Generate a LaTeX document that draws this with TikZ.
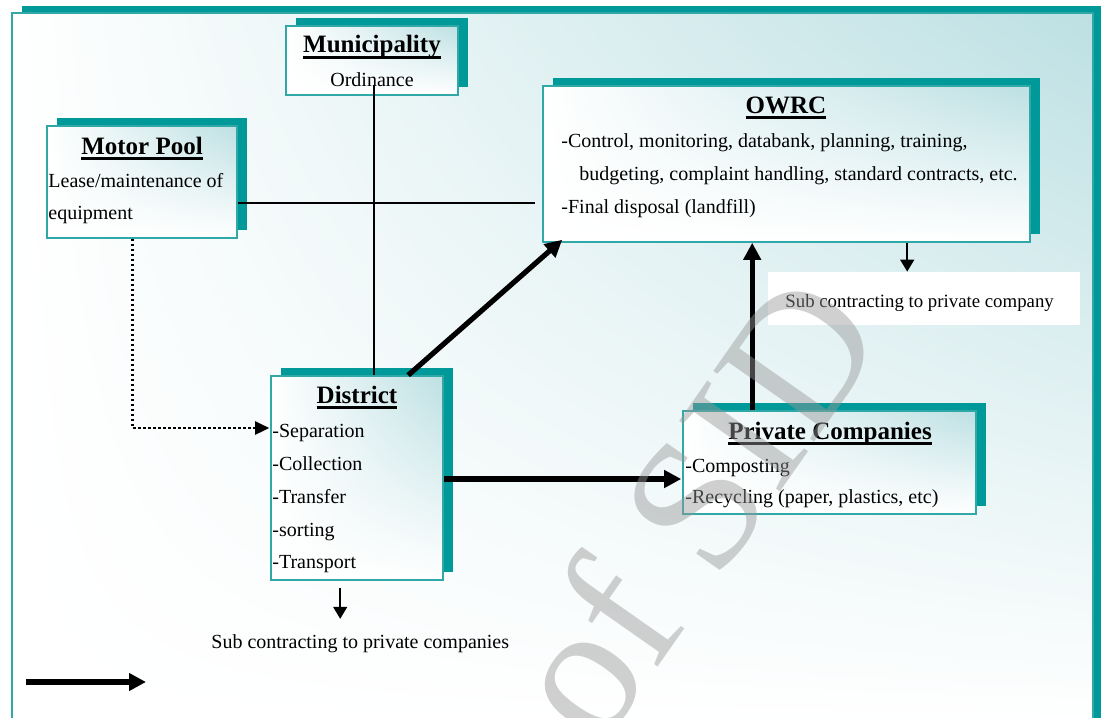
\documentclass[tikz,border=0pt]{standalone}
\usepackage{fontspec}
\setmainfont{Liberation Serif}
\usetikzlibrary{shadows,shadings,arrows.meta,calc}

\definecolor{tealdark}{HTML}{009999}
\definecolor{tealline}{HTML}{30A8A8}
\definecolor{tealpale}{HTML}{BDE0E3}
\definecolor{wmgray}{HTML}{979797}

% bold heading with a rule that cuts through the descenders
\newcommand\hdr[1]{\setbox0\hbox{\bfseries #1}\dp0=0pt\vtop{\copy0\kern1.7pt\hrule height 1.2pt}}

\tikzset{
  panel/.style={draw=tealline, line width=0.8pt, inner sep=0pt, shade,
    upper right=tealpale, upper left=white, lower left=white, lower right=white,
    general shadow={fill=tealdark, shadow xshift=5pt, shadow yshift=4pt}},
  txt/.style={font=\fontsize{10}{12}\selectfont, inner sep=0pt, anchor=base west},
  ttl/.style={font=\fontsize{12.5}{15}\selectfont, inner sep=0pt, anchor=base},
  thinline/.style={line width=1.15pt},
  thickarrow/.style={line width=2.6pt, -{Triangle[length=8.5pt,width=8.5pt]}},
  smallarrow/.style={line width=0.8pt, -{Triangle[length=6pt,width=7pt]}},
  dotarrow/.style={line width=1.3pt, dash pattern=on 1.3pt off 1.2pt,
    -{Triangle[length=7pt,width=6.5pt]}},
}

\begin{document}
\begin{tikzpicture}[x=0.5pt, y=-0.5pt]
\useasboundingbox (0,0) rectangle (1101,717);
\clip (0,0) rectangle (1101,717);

% outer frame with its shadow
\fill[tealdark] (22,6) rectangle (1115,735);
\shade[upper right=tealpale, upper left=white, lower left=white, lower right=white]
  (12,13) rectangle (1093,725);
\draw[tealline, line width=1.1pt] (12,13) rectangle (1093,725);

% panels
\node[panel, minimum width=86pt,   minimum height=34.5pt] (mun)   at (372,60.5)  {};
\node[panel, minimum width=95pt,   minimum height=56pt]   (mp)    at (142,182)   {};
\node[panel, minimum width=243.5pt,minimum height=78pt]   (owrc)  at (786.5,164) {};
\node[panel, minimum width=86pt,   minimum height=102pt]  (dis)   at (357,478)   {};
\node[panel, minimum width=146.5pt,minimum height=51.5pt] (pc)    at (829.5,462.5) {};
\node[fill=white, inner sep=0pt, minimum width=156pt, minimum height=26.5pt] (subA) at (924,298.5) {};

% panel texts
\node[ttl] (munT) at (372,53) {\hdr{Municipality}};
\node[txt, anchor=base] (munO) at (372,87) {Ordinance};

\node[ttl] (mpT) at (142,154) {\hdr{Motor Pool}};
\node[txt] (mp1) at (48,187) {Lease/maintenance of};
\node[txt] (mp2) at (48,219) {equipment};

\node[ttl] (owT) at (786,113) {\hdr{OWRC}};
\node[txt] (ow1) at (561,147) {-Control, monitoring, databank, planning, training,};
\node[txt] (ow2) at (579,180) {budgeting, complaint handling, standard contracts, etc.};
\node[txt] (ow3) at (561,213) {-Final disposal (landfill)};

\node[ttl] (disT) at (357,403) {\hdr{District}};
\node[txt] (dis1) at (272,437) {-Separation};
\node[txt] (dis2) at (272,470) {-Collection};
\node[txt] (dis3) at (272,503) {-Transfer};
\node[txt] (dis4) at (272,536) {-sorting};
\node[txt] (dis5) at (272,568) {-Transport};

\node[ttl] (pcT) at (830,439) {\hdr{Private Companies}};
\node[txt] (pc1) at (685,472) {-Composting};
\node[txt] (pc2) at (685,503) {-Recycling (paper, plastics, etc)};

\node[txt, font=\fontsize{9.4}{12}\selectfont] (subAT) at (785,307) {Sub contracting to private company};
\node[txt] (subB) at (211,648) {Sub contracting to private companies};

% connectors
\coordinate (hy) at (0,203);
\coordinate (ra) at (0,479);
\draw[thinline] ([xshift=1pt,yshift=1pt]munO.base) -- ([xshift=1pt]munO.base |- dis.north);
\draw[thinline] (mp.east |- hy) -- ($(owrc.west |- hy)+(-7,0)$);

\draw[thickarrow] ($(dis.north west)+(138,0)$) -- ($(owrc.south west)+(20,-3)$);
\coordinate (upA) at ($(pc.north west)+(70,0)$);
\draw[thickarrow] (upA) -- (upA |- owrc.south);
\draw[thickarrow] (dis.east |- ra) -- ($(pc.west |- ra)+(-1,0)$);

\coordinate (dA) at ($(mp.south west)+(86,0)$);
\draw[dotarrow] (dA) |- ([yshift=25pt,xshift=-0.5pt]dis.west);

\coordinate (sa) at ($(owrc.south west)+(365,0)$);
\draw[smallarrow] (sa) -- (sa |- subA.north);
\coordinate (sb) at ($(dis.south west)+(70,7)$);
\draw[smallarrow] (sb) -- ++(0,31);

% legend arrow
\coordinate (lgA) at (26,682);
\coordinate (lgB) at (146,682);
\draw[thickarrow, line width=3pt] (lgA) -- (lgB);

% watermark
\node[font=\fontsize{94}{94}\selectfont, text=wmgray, opacity=0.45, rotate=55,
  anchor=base east, inner sep=0pt] (wm) at (890,335) {Archive of SID};
\end{tikzpicture}
\end{document}
